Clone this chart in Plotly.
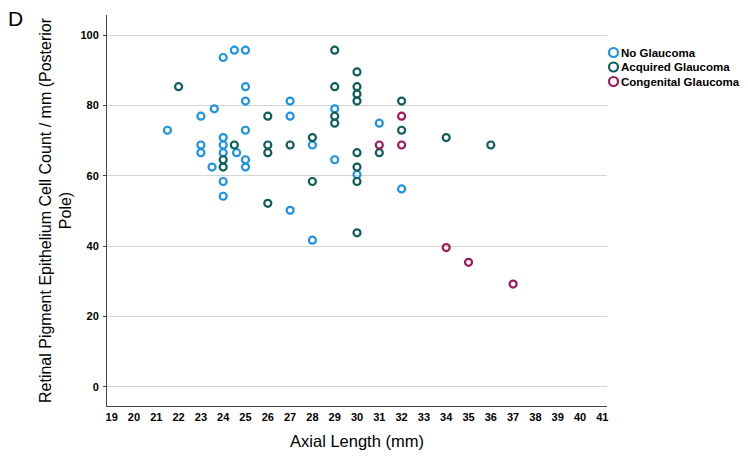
import plotly.graph_objects as go

no_x = [24, 24.5, 25, 25, 25, 23.6, 23, 21.5, 25, 24, 23, 24, 23, 24, 24.6, 25, 25, 23.5, 24, 24,
        27, 27, 27, 29, 31, 28, 29, 30, 32, 28]
no_y = [93.7, 95.8, 95.8, 85.4, 81.3, 79.1, 77.0, 73.0, 73.0, 70.9, 68.8, 68.8, 66.6, 66.6, 66.6,
        64.6, 62.5, 62.5, 58.4, 54.2, 81.3, 77.0, 50.2, 79.1, 75.0, 68.8, 64.6, 60.4, 56.3, 41.7]

acq_x = [22, 24.5, 24, 24, 26, 26, 26, 27, 26, 29, 30, 29, 30, 30, 30, 32, 29, 29, 32, 34, 28,
         30, 31, 30, 30, 28, 30, 36]
acq_y = [85.4, 68.8, 64.6, 62.5, 77.0, 68.8, 66.6, 68.8, 52.2, 95.8, 89.6, 85.4, 85.4, 83.3, 81.3,
         81.3, 77.0, 75.0, 73.0, 70.9, 70.9, 66.6, 66.6, 62.5, 58.4, 58.4, 43.8, 68.8]

con_x = [32, 31, 32, 34, 35, 37]
con_y = [77.0, 68.8, 68.8, 39.6, 35.4, 29.2]

x_ticks = list(range(19, 42))
y_ticks = [0, 20, 40, 60, 80, 100]

series = [
    ("No Glaucoma", no_x, no_y, "#1E93E3"),
    ("Acquired Glaucoma", acq_x, acq_y, "#0E5E5A"),
    ("Congenital Glaucoma", con_x, con_y, "#9E1A5A"),
]

# page offset (default body margin of the html page)
OFF = 8
W, H = 748 - OFF, 456 - OFF
# plot area in page pixels, converted to figure pixels
L, R, T, B = 107 - OFF, 607 - OFF, 15 - OFF, 406 - OFF

fig = go.Figure()
for name, xs, ys, col in series:
    fig.add_trace(go.Scatter(
        x=xs, y=ys, mode="markers", name=name, showlegend=False,
        marker=dict(symbol="circle-open", size=7, color=col, line=dict(width=2.2, color=col)),
    ))

fig.update_layout(
    width=W, height=H,
    margin=dict(l=L, r=W - R, t=T, b=H - B, autoexpand=False),
    paper_bgcolor="white", plot_bgcolor="white",
    font=dict(family="Liberation Sans, Arial, sans-serif", color="#000"),
    showlegend=False,
    xaxis=dict(range=[18.79, 41.21], tickvals=x_ticks, ticktext=[str(t) for t in x_ticks],
               showgrid=False, zeroline=False, showline=True, linecolor="#444", linewidth=1,
               ticks="", tickfont=dict(size=11, weight="bold"), automargin=False,
               ticklabelstandoff=1,
               title=dict(text="Axial Length (mm)", font=dict(size=16.5), standoff=13)),
    yaxis=dict(range=[-5.5, 105.8], tickvals=y_ticks, ticktext=[str(t) for t in y_ticks],
               showgrid=True, gridcolor="#d4d4d4", gridwidth=1.2, zeroline=False,
               showline=True, linecolor="#444", linewidth=1,
               ticks="outside", ticklen=3, tickcolor="#444", automargin=False,
               ticklabelstandoff=2,
               tickfont=dict(size=11, weight="bold"),
               title=dict(text="Retinal Pigment Epithelium Cell Count / mm (Posterior<br>Pole)",
                          font=dict(size=16), standoff=4)),
)

def px_x(p):
    return (p - OFF - L) / (R - L)

def px_y(p):
    return (B - (p - OFF)) / (B - T)

# Panel letter
fig.add_annotation(text="D", x=px_x(6), y=px_y(5), xref="paper", yref="paper",
                   xanchor="left", yanchor="top", showarrow=False,
                   font=dict(size=21, family="Liberation Sans, Arial"))

# Legend drawn manually
leg_y = [52.5, 67, 81.5]
for (name, _, _, col), py in zip(series, leg_y):
    fig.add_shape(type="circle", xref="paper", yref="paper",
                  xsizemode="pixel", ysizemode="pixel",
                  xanchor=px_x(613.5), yanchor=px_y(py),
                  x0=-4.5, x1=4.5, y0=-4.5, y1=4.5,
                  line=dict(color=col, width=2.2), fillcolor="rgba(0,0,0,0)")
    fig.add_annotation(text=name, x=px_x(619), y=px_y(py), xref="paper", yref="paper",
                       xanchor="left", yanchor="middle", showarrow=False,
                       font=dict(size=11.5, weight="bold", family="Liberation Sans, Arial"))

fig.write_html("out.html")
